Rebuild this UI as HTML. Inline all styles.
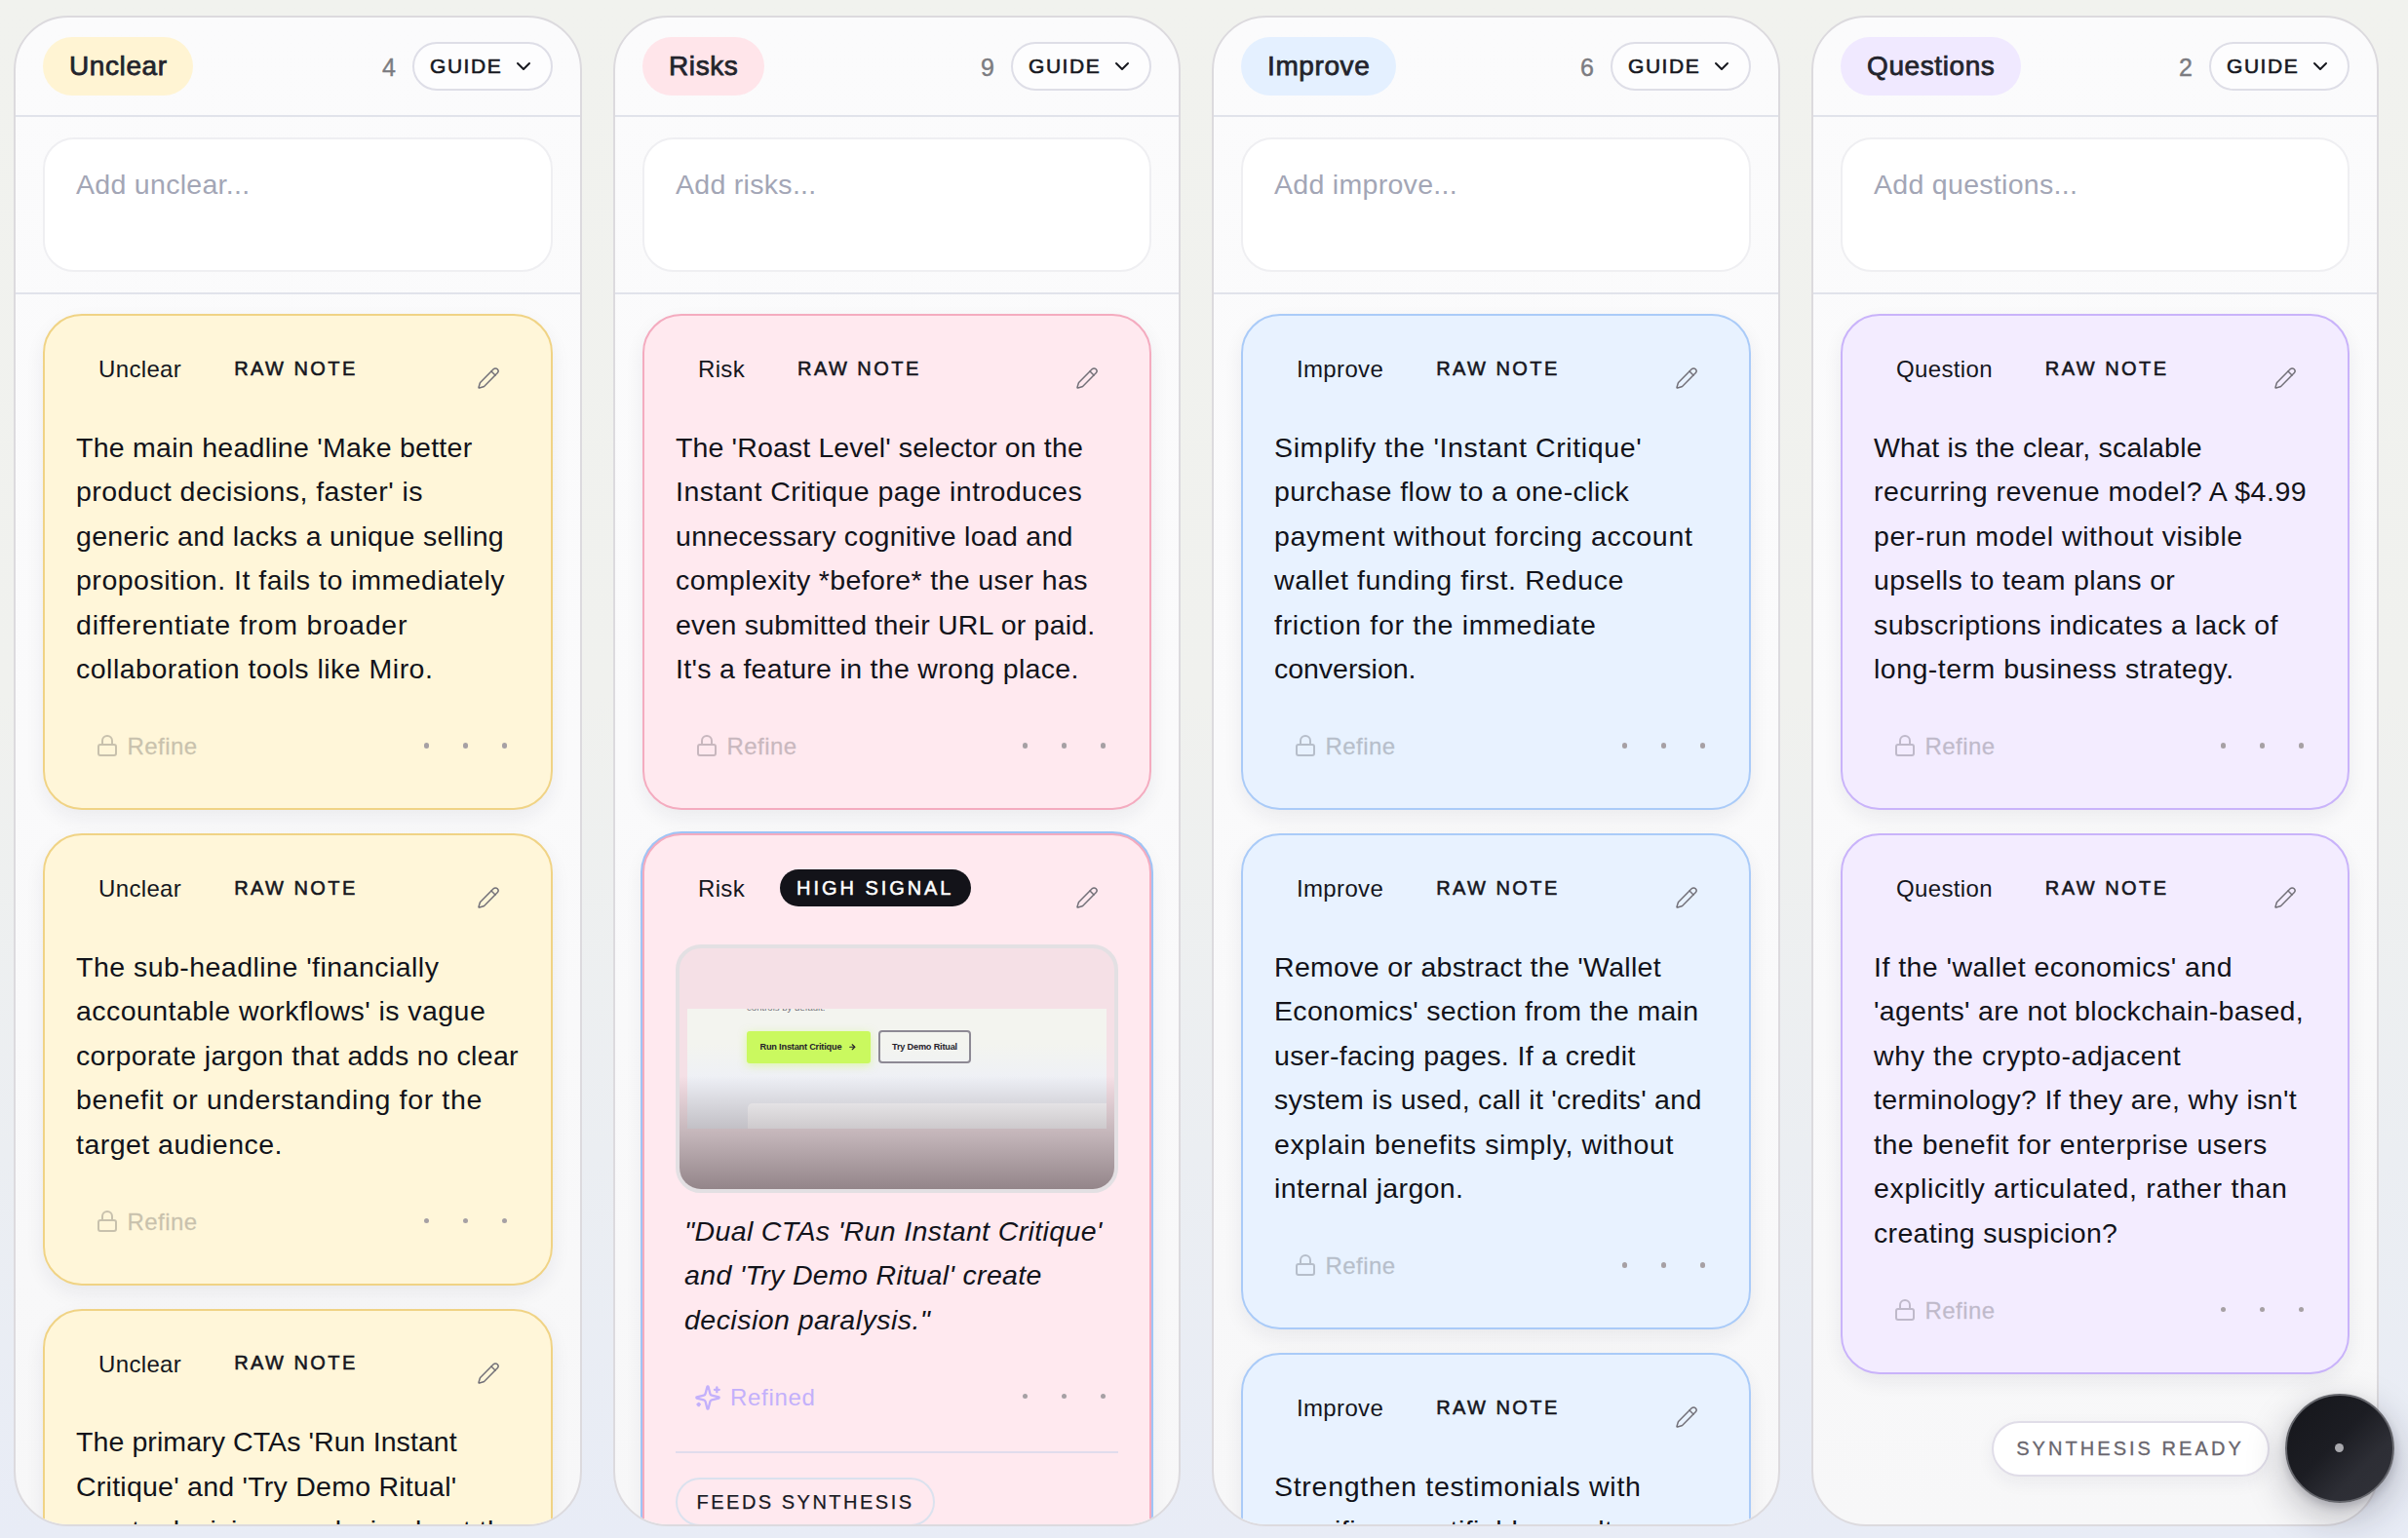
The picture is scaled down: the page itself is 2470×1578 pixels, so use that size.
<!DOCTYPE html>
<html lang="en"><head><meta charset="utf-8"><title>Critique board</title>
<style>
*{box-sizing:border-box;margin:0;padding:0}
html,body{width:2470px;height:1578px;overflow:hidden}
body{font-family:"Liberation Sans",sans-serif;color:#14151c;position:relative;
 background:linear-gradient(180deg,#f1f2ee 0%,#f0f1ee 45%,#ebeef2 75%,#e8ecf6 100%)}
.board{position:absolute;inset:0}
.col{position:absolute;top:16px;width:582px;height:1550px;border:2px solid #dcdade;border-radius:56px;background:linear-gradient(180deg,#fbfbfc 0%,#fafafb 50%,#f7f7f8 100%);overflow:hidden}
.c1{left:14px;width:583px}.c2{left:629px}.c3{left:1243px;width:583px}.c4{left:1858px}
header{height:102px;padding:20px 28.5px 20px 28px;display:flex;align-items:center;border-bottom:2px solid #e1e3eb}
.title{height:60px;line-height:60px;padding:0 26.5px 0 27px;border-radius:30px;font-weight:400;-webkit-text-stroke:.75px #23242c;letter-spacing:.6px;font-size:28px;color:#23242c;white-space:nowrap}
.unclear .title{background:#fff4d3}.risk .title{background:#ffe5ea}.improve .title{background:#e4f0ff}.question .title{background:#f0e9ff}
.cnt{margin-left:auto;font-size:25px;color:#7c7c81;-webkit-text-stroke:.4px #7c7c81;margin-right:16.5px;position:relative;top:1px}
.guide{width:144px;height:50px;border:2px solid #dedee7;border-radius:25px;background:#fdfdfe;display:flex;align-items:center;padding-left:16.5px;font-weight:400;-webkit-text-stroke:.6px #17181f;font-size:21px;letter-spacing:1.55px;color:#17181f}
.guide .chev{margin-left:9.5px;width:24px;height:24px}
.add{padding:21px 28px 21px;border-bottom:2px solid #e1e3eb;height:182px}
.inp{height:138px;border:2px solid #efeff2;border-radius:32px;background:#fff;padding:24px 32px;font-size:28.5px;line-height:45.5px;color:#a3a6b6;letter-spacing:.3px}
.cards{padding:20px 28px 0}
.card{position:relative;border:2px solid;border-radius:40px;padding:33px 32px 41px;margin-bottom:24px;box-shadow:0 8px 20px rgba(30,35,60,.065)}
.card.unclear{background:#fff6d9;border-color:#f0d385}
.card.risk{background:#ffe9ef;border-color:#f4abbf}
.card.improve{background:#e8f2ff;border-color:#aacbf8}
.card.question{background:#f3ecff;border-color:#c9b3fa}
.card.ring{box-shadow:0 0 0 2px #9ec4f6,0 8px 20px rgba(30,35,60,.065)}
.crow{height:44px;display:flex;align-items:center;white-space:nowrap}
.lab{font-size:24px;letter-spacing:.35px;padding-left:23px;color:#15161d}
.raw{font-size:20px;font-weight:400;-webkit-text-stroke:.55px #15161d;letter-spacing:2.45px;margin-left:54px;color:#15161d;position:relative;top:-1px}
.hs{font-size:20px;font-weight:400;-webkit-text-stroke:.5px #fff;letter-spacing:2.95px;margin-left:36px;color:#fff;background:#131319;height:38px;line-height:38px;border-radius:19px;padding:0 17.3px 0 17px;position:relative;top:-1px}
.pen{position:absolute;right:52px;top:52px;color:#727078}
.body{margin-top:35.5px;font-size:28.5px;line-height:45.5px;letter-spacing:.45px;color:#12131a}
.ln{display:block;white-space:nowrap}
.frow{height:44px;margin-top:34.5px;position:relative}
.refine{position:absolute;left:20px;top:0;height:44px;display:flex;align-items:center;font-size:24px;letter-spacing:.45px;color:#1a1a24;opacity:.235;-webkit-text-stroke:.3px #1a1a24}
.lock{position:relative;top:-1px}
.refine span,.refined span{margin-left:8.5px}
.refined{position:absolute;left:19px;top:0;height:44px;display:flex;align-items:center;font-size:24px;letter-spacing:.7px;color:#c3b0fb}
.refined span{margin-left:9px}
.dots{position:absolute;right:0;top:0;height:44px}
.dots i{position:absolute;top:18.25px;width:5.5px;height:5.5px;border-radius:50%;background:#a6a0a4}
.dots i:nth-child(1){right:93px}.dots i:nth-child(2){right:53px}.dots i:nth-child(3){right:13px}
/* thumbnail */
.thumb{position:relative;margin-top:35px;height:255px;border:4px solid #e3e0e3;border-radius:26px;background:linear-gradient(180deg,#f5e0e6 0%,#f5e0e6 60%,#f6e8ec 78%);overflow:hidden}
.shot{position:absolute;left:8px;right:8px;top:62px;height:123px;background:linear-gradient(180deg,#f3f4ef 30%,#eef0f6 60%);overflow:hidden;font-weight:700;color:#25222b}
.cut{position:absolute;left:61px;top:-7px;font-size:9.6px;font-weight:400;color:#77747c;white-space:nowrap}
.b1{position:absolute;left:61px;top:23px;width:127px;height:33px;border-radius:3px;background:#caf95f;font-size:9.2px;line-height:33px;padding-left:13.5px;white-space:nowrap;letter-spacing:-.2px;box-shadow:0 2px 8px rgba(202,249,95,.5)}
.b1 svg{margin-left:7px;vertical-align:-1.5px}
.b2{position:absolute;left:196px;top:22px;width:95px;height:34px;border-radius:4px;border:2px solid #8d8994;font-size:9.2px;line-height:30px;text-align:center;white-space:nowrap;letter-spacing:-.2px}
.bar{position:absolute;left:62px;right:0;top:97px;height:26px;border-top-left-radius:5px;background:#fdfdff}
.fade{position:absolute;inset:0;background:linear-gradient(180deg,rgba(60,45,50,0) 53%,rgba(60,45,50,.53) 100%)}
.quote{margin-top:16.5px;font-style:italic;padding-left:9px}
.sep{height:2px;background:#e1dcec;margin-top:33.5px}
.feeds{display:inline-block;margin-top:25px;height:50px;line-height:46px;border:2px solid #dbe2ee;border-radius:25px;padding:0 19.5px 0 19.5px;font-size:20px;letter-spacing:2.5px;color:#17181f;-webkit-text-stroke:.25px #17181f;white-space:nowrap}
.ready{position:absolute;left:2042.5px;top:1458px;width:285px;height:57px;border:2px solid #e0dde8;border-radius:29px;background:#fff;font-size:20px;letter-spacing:3.05px;color:#69666e;-webkit-text-stroke:.3px #69666e;line-height:53px;text-align:center;white-space:nowrap;box-shadow:0 6px 18px rgba(40,40,70,.06)}
.orb{position:absolute;left:2343.5px;top:1429.5px;width:112px;height:112px;border-radius:50%;background:linear-gradient(135deg,#15161b 0%,#1c1d23 45%,#2d2e35 70%,#303138 100%);border:2px solid #66676d;box-shadow:0 14px 40px rgba(20,20,40,.28),0 4px 10px rgba(20,20,40,.18)}
.orb i{position:absolute;left:50%;top:50%;width:9px;height:9px;margin:-4.5px 0 0 -4.5px;border-radius:50%;background:#a9a9ae}

</style></head>
<body>
<main class="board">
<section class="col c1 unclear">
<header><span class="title">Unclear</span><span class="cnt">4</span><span class="guide"><span>GUIDE</span><svg class="chev" viewBox="0 0 24 24" width="24" height="24" fill="none" stroke="currentColor" stroke-width="2" stroke-linecap="round" stroke-linejoin="round"><path d="m6 9 6 6 6-6"/></svg></span></header>
<div class="add"><div class="inp"><span>Add unclear...</span></div></div>
<div class="cards">
<div class="card unclear">
<div class="crow"><span class="lab">Unclear</span><span class="raw">RAW NOTE</span><svg class="pen" viewBox="0 0 24 24" width="24" height="24" fill="none" stroke="currentColor" stroke-width="1.5" stroke-linecap="round" stroke-linejoin="round"><path d="M21.174 6.812a1 1 0 0 0-3.986-3.987L3.842 16.174a2 2 0 0 0-.5.83l-1.321 4.352a.5.5 0 0 0 .623.622l4.353-1.32a2 2 0 0 0 .83-.497z"/><path d="m15 5 4 4"/></svg></div>
<div class="body"><span class="ln" style="letter-spacing:0.27px">The main headline 'Make better</span> <span class="ln" style="letter-spacing:0.45px">product decisions, faster' is</span> <span class="ln" style="letter-spacing:0.33px">generic and lacks a unique selling</span> <span class="ln" style="letter-spacing:0.52px">proposition. It fails to immediately</span> <span class="ln" style="letter-spacing:0.80px">differentiate from broader</span> <span class="ln" style="letter-spacing:0.49px">collaboration tools like Miro.</span></div>
<div class="frow"><span class="refine"><svg class="lock" viewBox="0 0 24 24" width="24" height="24" fill="none" stroke="currentColor" stroke-width="2" stroke-linecap="round" stroke-linejoin="round"><rect width="18" height="11" x="3" y="11" rx="2" ry="2"/><path d="M7 11V7a5 5 0 0 1 10 0v4"/></svg><span>Refine</span></span><span class="dots"><i></i><i></i><i></i></span></div>
</div><div class="card unclear">
<div class="crow"><span class="lab">Unclear</span><span class="raw">RAW NOTE</span><svg class="pen" viewBox="0 0 24 24" width="24" height="24" fill="none" stroke="currentColor" stroke-width="1.5" stroke-linecap="round" stroke-linejoin="round"><path d="M21.174 6.812a1 1 0 0 0-3.986-3.987L3.842 16.174a2 2 0 0 0-.5.83l-1.321 4.352a.5.5 0 0 0 .623.622l4.353-1.32a2 2 0 0 0 .83-.497z"/><path d="m15 5 4 4"/></svg></div>
<div class="body"><span class="ln" style="letter-spacing:0.47px">The sub-headline 'financially</span> <span class="ln" style="letter-spacing:0.45px">accountable workflows' is vague</span> <span class="ln" style="letter-spacing:0.34px">corporate jargon that adds no clear</span> <span class="ln" style="letter-spacing:0.65px">benefit or understanding for the</span> <span class="ln" style="letter-spacing:0.47px">target audience.</span></div>
<div class="frow"><span class="refine"><svg class="lock" viewBox="0 0 24 24" width="24" height="24" fill="none" stroke="currentColor" stroke-width="2" stroke-linecap="round" stroke-linejoin="round"><rect width="18" height="11" x="3" y="11" rx="2" ry="2"/><path d="M7 11V7a5 5 0 0 1 10 0v4"/></svg><span>Refine</span></span><span class="dots"><i></i><i></i><i></i></span></div>
</div><div class="card unclear">
<div class="crow"><span class="lab">Unclear</span><span class="raw">RAW NOTE</span><svg class="pen" viewBox="0 0 24 24" width="24" height="24" fill="none" stroke="currentColor" stroke-width="1.5" stroke-linecap="round" stroke-linejoin="round"><path d="M21.174 6.812a1 1 0 0 0-3.986-3.987L3.842 16.174a2 2 0 0 0-.5.83l-1.321 4.352a.5.5 0 0 0 .623.622l4.353-1.32a2 2 0 0 0 .83-.497z"/><path d="m15 5 4 4"/></svg></div>
<div class="body"><span class="ln" style="letter-spacing:0.09px">The primary CTAs 'Run Instant</span> <span class="ln" style="letter-spacing:0.25px">Critique' and 'Try Demo Ritual'</span> <span class="ln">create decision paralysis about the</span></div>
<div class="frow"><span class="refine"><svg class="lock" viewBox="0 0 24 24" width="24" height="24" fill="none" stroke="currentColor" stroke-width="2" stroke-linecap="round" stroke-linejoin="round"><rect width="18" height="11" x="3" y="11" rx="2" ry="2"/><path d="M7 11V7a5 5 0 0 1 10 0v4"/></svg><span>Refine</span></span><span class="dots"><i></i><i></i><i></i></span></div>
</div>
</div>
</section><section class="col c2 risk">
<header><span class="title">Risks</span><span class="cnt">9</span><span class="guide"><span>GUIDE</span><svg class="chev" viewBox="0 0 24 24" width="24" height="24" fill="none" stroke="currentColor" stroke-width="2" stroke-linecap="round" stroke-linejoin="round"><path d="m6 9 6 6 6-6"/></svg></span></header>
<div class="add"><div class="inp"><span>Add risks...</span></div></div>
<div class="cards">
<div class="card risk">
<div class="crow"><span class="lab">Risk</span><span class="raw">RAW NOTE</span><svg class="pen" viewBox="0 0 24 24" width="24" height="24" fill="none" stroke="currentColor" stroke-width="1.5" stroke-linecap="round" stroke-linejoin="round"><path d="M21.174 6.812a1 1 0 0 0-3.986-3.987L3.842 16.174a2 2 0 0 0-.5.83l-1.321 4.352a.5.5 0 0 0 .623.622l4.353-1.32a2 2 0 0 0 .83-.497z"/><path d="m15 5 4 4"/></svg></div>
<div class="body"><span class="ln" style="letter-spacing:0.14px">The 'Roast Level' selector on the</span> <span class="ln" style="letter-spacing:0.46px">Instant Critique page introduces</span> <span class="ln" style="letter-spacing:0.28px">unnecessary cognitive load and</span> <span class="ln" style="letter-spacing:0.39px">complexity *before* the user has</span> <span class="ln" style="letter-spacing:0.21px">even submitted their URL or paid.</span> <span class="ln" style="letter-spacing:0.31px">It's a feature in the wrong place.</span></div>
<div class="frow"><span class="refine"><svg class="lock" viewBox="0 0 24 24" width="24" height="24" fill="none" stroke="currentColor" stroke-width="2" stroke-linecap="round" stroke-linejoin="round"><rect width="18" height="11" x="3" y="11" rx="2" ry="2"/><path d="M7 11V7a5 5 0 0 1 10 0v4"/></svg><span>Refine</span></span><span class="dots"><i></i><i></i><i></i></span></div>
</div><div class="card risk ring">
<div class="crow"><span class="lab">Risk</span><span class="hs">HIGH SIGNAL</span><svg class="pen" viewBox="0 0 24 24" width="24" height="24" fill="none" stroke="currentColor" stroke-width="1.5" stroke-linecap="round" stroke-linejoin="round"><path d="M21.174 6.812a1 1 0 0 0-3.986-3.987L3.842 16.174a2 2 0 0 0-.5.83l-1.321 4.352a.5.5 0 0 0 .623.622l4.353-1.32a2 2 0 0 0 .83-.497z"/><path d="m15 5 4 4"/></svg></div>
<div class="thumb"><div class="shot"><span class="cut">controls by default.</span><span class="b1">Run Instant Critique<svg viewBox="0 0 24 24" width="8.5" height="8.5" fill="none" stroke="currentColor" stroke-width="3.4" stroke-linecap="round" stroke-linejoin="round"><path d="M5 12h14"/><path d="m12 5 7 7-7 7"/></svg></span><span class="b2">Try Demo Ritual</span><span class="bar"></span></div><div class="fade"></div></div>
<div class="body quote"><span class="ln" style="letter-spacing:0.37px">"Dual CTAs 'Run Instant Critique'</span> <span class="ln" style="letter-spacing:0.34px">and 'Try Demo Ritual' create</span> <span class="ln" style="letter-spacing:0.47px">decision paralysis."</span></div>
<div class="frow"><span class="refined"><svg class="spark" viewBox="0 0 24 24" width="28" height="28" fill="none" stroke="currentColor" stroke-width="2" stroke-linecap="round" stroke-linejoin="round"><path d="M9.937 15.5A2 2 0 0 0 8.5 14.063l-6.135-1.582a.5.5 0 0 1 0-.962L8.5 9.936A2 2 0 0 0 9.937 8.5l1.582-6.135a.5.5 0 0 1 .963 0L14.063 8.5A2 2 0 0 0 15.5 9.937l6.135 1.581a.5.5 0 0 1 0 .964L15.5 14.063a2 2 0 0 0-1.437 1.437l-1.582 6.135a.5.5 0 0 1-.963 0z"/><path d="M20 3v4"/><path d="M22 5h-4"/><path d="M4 17v2"/><path d="M5 18H3"/></svg><span>Refined</span></span><span class="dots"><i></i><i></i><i></i></span></div>
<div class="sep"></div>
<span class="feeds">FEEDS SYNTHESIS</span>
</div>
</div>
</section><section class="col c3 improve">
<header><span class="title">Improve</span><span class="cnt">6</span><span class="guide"><span>GUIDE</span><svg class="chev" viewBox="0 0 24 24" width="24" height="24" fill="none" stroke="currentColor" stroke-width="2" stroke-linecap="round" stroke-linejoin="round"><path d="m6 9 6 6 6-6"/></svg></span></header>
<div class="add"><div class="inp"><span>Add improve...</span></div></div>
<div class="cards">
<div class="card improve">
<div class="crow"><span class="lab">Improve</span><span class="raw">RAW NOTE</span><svg class="pen" viewBox="0 0 24 24" width="24" height="24" fill="none" stroke="currentColor" stroke-width="1.5" stroke-linecap="round" stroke-linejoin="round"><path d="M21.174 6.812a1 1 0 0 0-3.986-3.987L3.842 16.174a2 2 0 0 0-.5.83l-1.321 4.352a.5.5 0 0 0 .623.622l4.353-1.32a2 2 0 0 0 .83-.497z"/><path d="m15 5 4 4"/></svg></div>
<div class="body"><span class="ln" style="letter-spacing:0.63px">Simplify the 'Instant Critique'</span> <span class="ln" style="letter-spacing:0.45px">purchase flow to a one-click</span> <span class="ln" style="letter-spacing:0.67px">payment without forcing account</span> <span class="ln" style="letter-spacing:0.60px">wallet funding first. Reduce</span> <span class="ln" style="letter-spacing:0.71px">friction for the immediate</span> <span class="ln" style="letter-spacing:-0.03px">conversion.</span></div>
<div class="frow"><span class="refine"><svg class="lock" viewBox="0 0 24 24" width="24" height="24" fill="none" stroke="currentColor" stroke-width="2" stroke-linecap="round" stroke-linejoin="round"><rect width="18" height="11" x="3" y="11" rx="2" ry="2"/><path d="M7 11V7a5 5 0 0 1 10 0v4"/></svg><span>Refine</span></span><span class="dots"><i></i><i></i><i></i></span></div>
</div><div class="card improve">
<div class="crow"><span class="lab">Improve</span><span class="raw">RAW NOTE</span><svg class="pen" viewBox="0 0 24 24" width="24" height="24" fill="none" stroke="currentColor" stroke-width="1.5" stroke-linecap="round" stroke-linejoin="round"><path d="M21.174 6.812a1 1 0 0 0-3.986-3.987L3.842 16.174a2 2 0 0 0-.5.83l-1.321 4.352a.5.5 0 0 0 .623.622l4.353-1.32a2 2 0 0 0 .83-.497z"/><path d="m15 5 4 4"/></svg></div>
<div class="body"><span class="ln" style="letter-spacing:0.31px">Remove or abstract the 'Wallet</span> <span class="ln" style="letter-spacing:0.32px">Economics' section from the main</span> <span class="ln" style="letter-spacing:0.37px">user-facing pages. If a credit</span> <span class="ln" style="letter-spacing:0.30px">system is used, call it 'credits' and</span> <span class="ln" style="letter-spacing:0.60px">explain benefits simply, without</span> <span class="ln" style="letter-spacing:0.36px">internal jargon.</span></div>
<div class="frow"><span class="refine"><svg class="lock" viewBox="0 0 24 24" width="24" height="24" fill="none" stroke="currentColor" stroke-width="2" stroke-linecap="round" stroke-linejoin="round"><rect width="18" height="11" x="3" y="11" rx="2" ry="2"/><path d="M7 11V7a5 5 0 0 1 10 0v4"/></svg><span>Refine</span></span><span class="dots"><i></i><i></i><i></i></span></div>
</div><div class="card improve">
<div class="crow"><span class="lab">Improve</span><span class="raw">RAW NOTE</span><svg class="pen" viewBox="0 0 24 24" width="24" height="24" fill="none" stroke="currentColor" stroke-width="1.5" stroke-linecap="round" stroke-linejoin="round"><path d="M21.174 6.812a1 1 0 0 0-3.986-3.987L3.842 16.174a2 2 0 0 0-.5.83l-1.321 4.352a.5.5 0 0 0 .623.622l4.353-1.32a2 2 0 0 0 .83-.497z"/><path d="m15 5 4 4"/></svg></div>
<div class="body"><span class="ln" style="letter-spacing:0.72px">Strengthen testimonials with</span> <span class="ln">specific, quantifiable results</span></div>
<div class="frow"><span class="refine"><svg class="lock" viewBox="0 0 24 24" width="24" height="24" fill="none" stroke="currentColor" stroke-width="2" stroke-linecap="round" stroke-linejoin="round"><rect width="18" height="11" x="3" y="11" rx="2" ry="2"/><path d="M7 11V7a5 5 0 0 1 10 0v4"/></svg><span>Refine</span></span><span class="dots"><i></i><i></i><i></i></span></div>
</div>
</div>
</section><section class="col c4 question">
<header><span class="title">Questions</span><span class="cnt">2</span><span class="guide"><span>GUIDE</span><svg class="chev" viewBox="0 0 24 24" width="24" height="24" fill="none" stroke="currentColor" stroke-width="2" stroke-linecap="round" stroke-linejoin="round"><path d="m6 9 6 6 6-6"/></svg></span></header>
<div class="add"><div class="inp"><span>Add questions...</span></div></div>
<div class="cards">
<div class="card question">
<div class="crow"><span class="lab">Question</span><span class="raw">RAW NOTE</span><svg class="pen" viewBox="0 0 24 24" width="24" height="24" fill="none" stroke="currentColor" stroke-width="1.5" stroke-linecap="round" stroke-linejoin="round"><path d="M21.174 6.812a1 1 0 0 0-3.986-3.987L3.842 16.174a2 2 0 0 0-.5.83l-1.321 4.352a.5.5 0 0 0 .623.622l4.353-1.32a2 2 0 0 0 .83-.497z"/><path d="m15 5 4 4"/></svg></div>
<div class="body"><span class="ln" style="letter-spacing:0.21px">What is the clear, scalable</span> <span class="ln" style="letter-spacing:0.51px">recurring revenue model? A $4.99</span> <span class="ln" style="letter-spacing:0.55px">per-run model without visible</span> <span class="ln" style="letter-spacing:0.34px">upsells to team plans or</span> <span class="ln" style="letter-spacing:0.43px">subscriptions indicates a lack of</span> <span class="ln" style="letter-spacing:0.49px">long-term business strategy.</span></div>
<div class="frow"><span class="refine"><svg class="lock" viewBox="0 0 24 24" width="24" height="24" fill="none" stroke="currentColor" stroke-width="2" stroke-linecap="round" stroke-linejoin="round"><rect width="18" height="11" x="3" y="11" rx="2" ry="2"/><path d="M7 11V7a5 5 0 0 1 10 0v4"/></svg><span>Refine</span></span><span class="dots"><i></i><i></i><i></i></span></div>
</div><div class="card question">
<div class="crow"><span class="lab">Question</span><span class="raw">RAW NOTE</span><svg class="pen" viewBox="0 0 24 24" width="24" height="24" fill="none" stroke="currentColor" stroke-width="1.5" stroke-linecap="round" stroke-linejoin="round"><path d="M21.174 6.812a1 1 0 0 0-3.986-3.987L3.842 16.174a2 2 0 0 0-.5.83l-1.321 4.352a.5.5 0 0 0 .623.622l4.353-1.32a2 2 0 0 0 .83-.497z"/><path d="m15 5 4 4"/></svg></div>
<div class="body"><span class="ln" style="letter-spacing:0.46px">If the 'wallet economics' and</span> <span class="ln" style="letter-spacing:0.30px">'agents' are not blockchain-based,</span> <span class="ln" style="letter-spacing:0.62px">why the crypto-adjacent</span> <span class="ln" style="letter-spacing:0.34px">terminology? If they are, why isn't</span> <span class="ln" style="letter-spacing:0.54px">the benefit for enterprise users</span> <span class="ln" style="letter-spacing:0.68px">explicitly articulated, rather than</span> <span class="ln" style="letter-spacing:0.33px">creating suspicion?</span></div>
<div class="frow"><span class="refine"><svg class="lock" viewBox="0 0 24 24" width="24" height="24" fill="none" stroke="currentColor" stroke-width="2" stroke-linecap="round" stroke-linejoin="round"><rect width="18" height="11" x="3" y="11" rx="2" ry="2"/><path d="M7 11V7a5 5 0 0 1 10 0v4"/></svg><span>Refine</span></span><span class="dots"><i></i><i></i><i></i></span></div>
</div>
</div>
</section>
</main>
<div class="ready">SYNTHESIS READY</div>
<div class="orb"><i></i></div>
</body></html>
